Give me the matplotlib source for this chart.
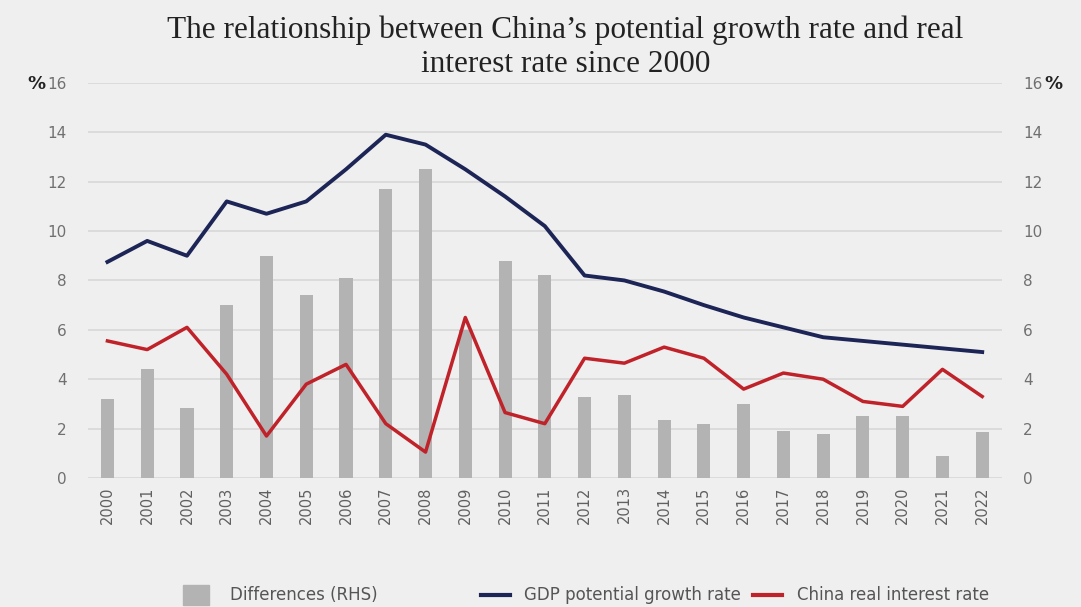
import matplotlib
matplotlib.use("Agg")
import matplotlib.pyplot as plt
from matplotlib.patches import Rectangle
from matplotlib.lines import Line2D

years = [str(y) for y in range(2000, 2023)]
differences = [3.2, 4.4, 2.85, 7.0, 9.0, 7.4, 8.1, 11.7, 12.5, 6.0, 8.8, 8.2,
               3.3, 3.35, 2.35, 2.2, 3.0, 1.9, 1.8, 2.5, 2.5, 0.9, 1.85]
gdp_potential = [8.75, 9.6, 9.0, 11.2, 10.7, 11.2, 12.5, 13.9, 13.5, 12.5, 11.4, 10.2,
                 8.2, 8.0, 7.55, 7.0, 6.5, 6.1, 5.7, 5.55, 5.4, 5.25, 5.1]
real_rate = [5.55, 5.2, 6.1, 4.2, 1.7, 3.8, 4.6, 2.2, 1.05, 6.5, 2.65, 2.2,
             4.85, 4.65, 5.3, 4.85, 3.6, 4.25, 4.0, 3.1, 2.9, 4.4, 3.3]
yticks = [0, 2, 4, 6, 8, 10, 12, 14, 16]

bg = "#efefef"
fig = plt.figure(figsize=(10.81, 6.07), dpi=100, facecolor=bg)
ax = fig.add_axes([0.081, 0.2125, 0.846, 0.651], facecolor=bg)
x = list(range(len(years)))

ax.bar(x, differences, width=0.33, color="#b3b3b3", zorder=2)
ax.plot(x, gdp_potential, color="#1c2556", lw=2.8, zorder=3)
ax.plot(x, real_rate, color="#c0222a", lw=2.5, zorder=3)

ax.set_xlim(-0.5, len(years) - 0.5)
ax.set_ylim(0, 16)
ax.set_yticks(yticks)
ax.yaxis.grid(True, color="#d8d8d8", lw=1.2, zorder=0)
ax.set_axisbelow(True)
for s in ax.spines.values():
    s.set_visible(False)
ax.tick_params(axis="y", length=0, labelsize=11, labelcolor="#707070", pad=15)
ax.set_xticks(x)
ax.set_xticklabels(years, rotation=90, fontsize=10.5, color="#606060")
ax.tick_params(axis="x", length=0, pad=6)

ax2 = ax.twinx()
ax2.set_ylim(0, 16)
ax2.set_yticks(yticks)
for s in ax2.spines.values():
    s.set_visible(False)
ax2.tick_params(axis="y", length=0, labelsize=11, labelcolor="#707070", pad=15)

fig.text(0.025, 0.862, "%", fontsize=13, fontweight="bold", color="#222222", va="center")
fig.text(0.966, 0.862, "%", fontsize=13, fontweight="bold", color="#222222", va="center")

fig.text(0.523, 0.95, "The relationship between China\u2019s potential growth rate and real",
         family="Liberation Serif", fontsize=22.5, ha="center", va="center", color="#222222")
fig.text(0.523, 0.893, "interest rate since 2000",
         family="Liberation Serif", fontsize=22.5, ha="center", va="center", color="#222222")

# Legend
ly = 0.02
fig.patches.append(Rectangle((0.169, 0.004), 0.024, 0.033, transform=fig.transFigure,
                             color="#b3b3b3", figure=fig))
fig.text(0.213, ly, "Differences (RHS)", fontsize=12, color="#555555", va="center")
fig.lines.append(Line2D([0.445, 0.472], [ly, ly], transform=fig.transFigure,
                        color="#1c2556", lw=3, figure=fig))
fig.text(0.485, ly, "GDP potential growth rate", fontsize=12, color="#555555", va="center")
fig.lines.append(Line2D([0.697, 0.723], [ly, ly], transform=fig.transFigure,
                        color="#c0222a", lw=3, figure=fig))
fig.text(0.737, ly, "China real interest rate", fontsize=12, color="#555555", va="center")

fig.savefig("out.png", dpi=100, facecolor=bg)
